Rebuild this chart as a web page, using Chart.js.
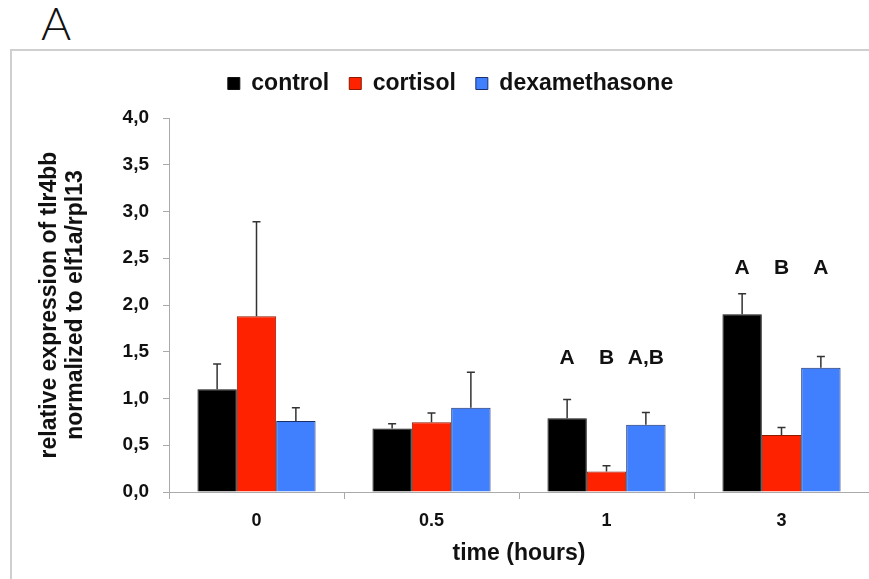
<!DOCTYPE html>
<html>
<head>
<meta charset="utf-8">
<script src="https://cdn.jsdelivr.net/npm/chart.js@4"></script>
<style>
  body { margin: 0; background: #fff; }
  #wrap { position: relative; width: 869px; height: 579px; overflow: hidden; }
  #panel { position: absolute; left: 41px; top: 0px; font: 300 46px/46px Lato, "Liberation Sans", sans-serif; color: #111; }
  #frame { position: absolute; left: 10px; top: 49px; width: 870px; height: 540px; border-left: 2px solid #cfcfcf; border-top: 2px solid #cfcfcf; }
  canvas { position: absolute; left: 0; top: 0; }
</style>
</head>
<body>
<div id="wrap">
  <div id="panel">A</div>
  <div id="frame"></div>
  <canvas id="myChart" width="869" height="579"></canvas>
</div>
<script>
// 데이터
const timeLabels = ["0", "0.5", "1", "3"];
const seriesNames = ["control", "cortisol", "dexamethasone"];
const controlValues = [1.10, 0.68, 0.79, 1.90];
const cortisolValues = [1.88, 0.745, 0.22, 0.61];
const dexaValues = [0.76, 0.90, 0.72, 1.33];
const controlErrors = [0.27, 0.05, 0.20, 0.22];
const cortisolErrors = [1.01, 0.10, 0.06, 0.08];
const dexaErrors = [0.14, 0.38, 0.13, 0.12];
// 유의성 문자
const controlLetters = ["", "", "A", "A"];
const cortisolLetters = ["", "", "B", "B"];
const dexaLetters = ["", "", "A,B", "A"];
const letterLevels = [null, null, 1.43, 2.39];
const yTicks = [0, 0.5, 1, 1.5, 2, 2.5, 3, 3.5, 4];

const fillColors = ["#000000", "#ff2200", "#4080ff"];
const edgeColors = ["#111111", "#8a1a00", "#1a2f6a"];
const FONT = "'Liberation Sans', Arial, sans-serif";

const errorsBySeries = [controlErrors, cortisolErrors, dexaErrors];
const lettersBySeries = [controlLetters, cortisolLetters, dexaLetters];
const seriesValues = [controlValues, cortisolValues, dexaValues];

// 에러바 + 문자 플러그인
const errorBarPlugin = {
    id: "errorBars",
    afterDatasetsDraw(chart) {
        const ctx = chart.ctx;
        const yScale = chart.scales.y;
        ctx.save();
        chart.data.datasets.forEach((ds, i) => {
            const meta = chart.getDatasetMeta(i);
            meta.data.forEach((bar, j) => {
                const top = yScale.getPixelForValue(ds.data[j] + errorsBySeries[i][j]);
                ctx.strokeStyle = "#333";
                ctx.lineWidth = 1.5;
                ctx.beginPath();
                ctx.moveTo(bar.x, bar.y);
                ctx.lineTo(bar.x, top);
                ctx.moveTo(bar.x - 4, top);
                ctx.lineTo(bar.x + 4, top);
                ctx.stroke();

                const letter = lettersBySeries[i][j];
                if (letter && letterLevels[j] !== null) {
                    ctx.fillStyle = "#111";
                    ctx.font = "bold 21px " + FONT;
                    ctx.textAlign = "center";
                    ctx.textBaseline = "middle";
                    ctx.fillText(letter, bar.x, yScale.getPixelForValue(letterLevels[j]));
                }
            });
        });
        ctx.restore();
    }
};

// 범례 아래 여백
const legendMargin = {
    id: "legendMargin",
    beforeInit(chart) {
        const fit = chart.legend.fit;
        chart.legend.fit = function () {
            fit.bind(chart.legend)();
            this.height += 13;
        };
    }
};

const chartInstance = new Chart(document.getElementById("myChart").getContext("2d"), {
    type: "bar",
    data: {
        labels: timeLabels,
        datasets: seriesNames.map((name, i) => ({
            label: name,
            data: seriesValues[i],
            backgroundColor: fillColors[i],
            borderColor: edgeColors[i],
            borderWidth: 1,
            barPercentage: 1.0,
            categoryPercentage: 0.675
        }))
    },
    options: {
        responsive: false,
        animation: false,
        layout: { padding: { top: 52, right: 0, left: 32, bottom: 0 } },
        plugins: {
            tooltip: { enabled: false },
            legend: {
                position: "top",
                labels: {
                    boxWidth: 12,
                    boxHeight: 12,
                    padding: 20,
                    color: "#111",
                    font: { family: FONT, size: 23, weight: "bold" }
                }
            }
        },
        scales: {
            x: {
                afterFit(scale) { scale.height = 87; },
                grid: { display: true, drawOnChartArea: false, color: "#aaa", tickLength: 7, offset: true },
                border: { color: "#aaa", width: 1 },
                ticks: { color: "#111", font: { family: FONT, size: 18, weight: "bold" }, padding: 11 },
                title: {
                    display: true,
                    text: "time (hours)",
                    color: "#111",
                    font: { family: FONT, size: 23, weight: "bold" },
                    padding: { top: 0, bottom: 12 }
                }
            },
            y: {
                min: 0,
                max: 4,
                afterBuildTicks(scale) { scale.ticks = yTicks.map(v => ({ value: v })); },
                afterFit(scale) { scale.width = 137; },
                grid: { display: true, drawOnChartArea: false, color: "#aaa", tickLength: 6 },
                border: { color: "#aaa", width: 1 },
                ticks: {
                    color: "#111",
                    padding: 14,
                    font: { family: FONT, size: 19, weight: "bold" },
                    callback: v => v.toFixed(1).replace(".", ",")
                },
                title: {
                    display: true,
                    text: ["relative expression of tlr4bb", "normalized to elf1a/rpl13"],
                    color: "#111",
                    font: { family: FONT, size: 23, weight: "bold", lineHeight: 1.13 },
                    padding: { top: 5, bottom: 0 }
                }
            }
        }
    },
    plugins: [errorBarPlugin, legendMargin]
});
</script>
</body>
</html>
